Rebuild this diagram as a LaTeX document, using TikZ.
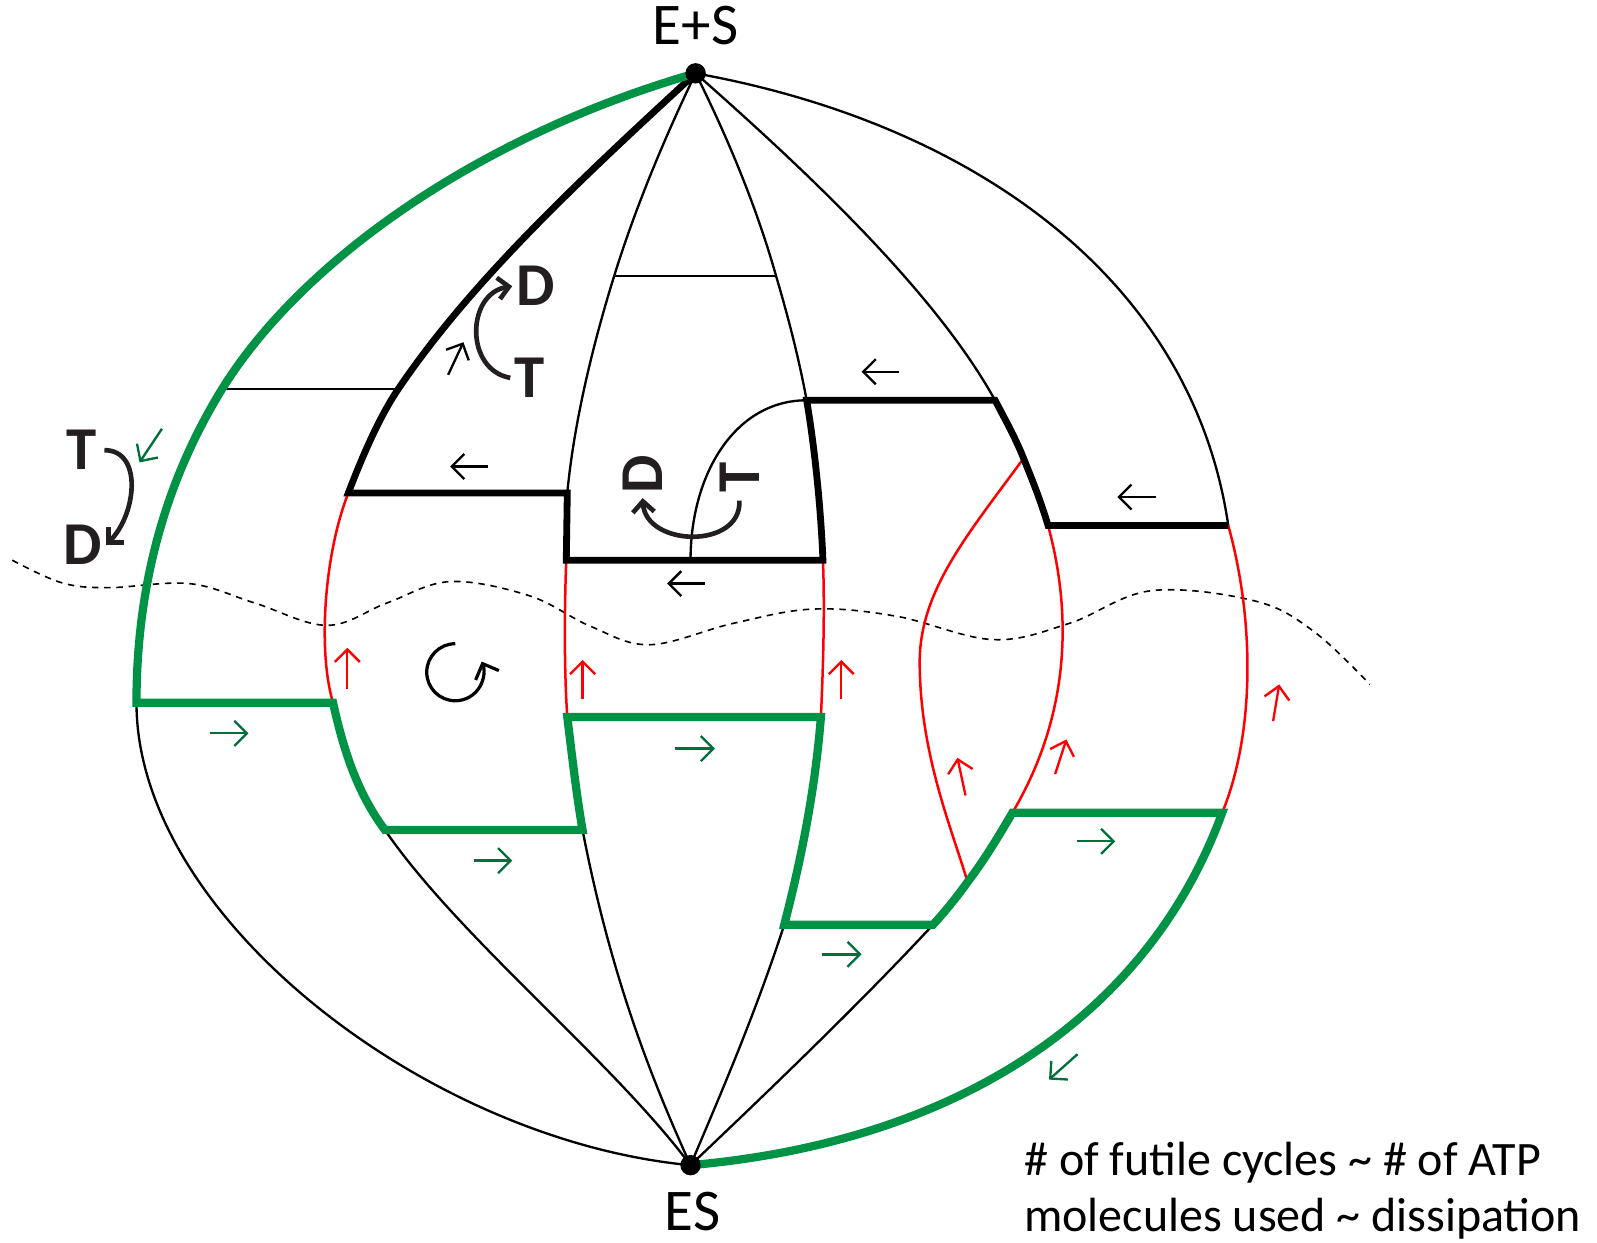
\documentclass[tikz,border=0pt]{standalone}
\usepackage{fontspec}
\setmainfont{Carlito}
\usetikzlibrary{arrows.meta}
\definecolor{pathgreen}{RGB}{0,146,69}
\definecolor{arrgreen}{RGB}{0,112,58}
\definecolor{loopgray}{RGB}{35,31,32}

\begin{document}
\begin{tikzpicture}[x=0.01cm, y=-0.01cm,
  thinline/.style={line width=0.65pt},
  boldline/.style={line width=1.9pt},
  greenline/.style={draw=pathgreen, line width=2.3pt},
  redline/.style={draw=red, line width=0.7pt},
  flow/.style={-{Straight Barb[length=3.5pt,width=7pt]}, line width=0.65pt},
  cyc/.style={draw=loopgray, line width=1.3pt, -{Straight Barb[length=3pt,width=6pt]}},
  letter/.style={inner sep=0pt, text=loopgray, font=\bfseries\fontsize{17}{18}\selectfont},
  statedot/.style={circle, fill=black, inner sep=0pt, minimum size=0.2cm},
  lbl/.style={font=\fontsize{16.5}{19}\selectfont}]
  \useasboundingbox (0,0) rectangle (1568,1220);

  %% states
  \coordinate (top) at (683,72);
  \coordinate (bot) at (678,1144);

  %% junctions on the six paths (a = outer left ... f = outer right)
  \coordinate (aH) at (218,382);
  \coordinate (aG) at (134,690);
  \coordinate (bH) at (391,382);
  \coordinate (bK) at (342,484);
  \coordinate (bG) at (327,690);
  \coordinate (bN) at (378,815);
  \coordinate (cH) at (603,271);
  \coordinate (cK) at (557,484);
  \coordinate (cL) at (556,550);
  \coordinate (cM) at (557,704);
  \coordinate (cN) at (572,815);
  \coordinate (dH) at (762,271);
  \coordinate (dK) at (792,393);
  \coordinate (dL) at (808,550);
  \coordinate (dM) at (806,704);
  \coordinate (dN) at (770,908);
  \coordinate (eK) at (977,393);
  \coordinate (eR) at (1005,450);
  \coordinate (eL) at (1029,516);
  \coordinate (eM) at (994,798);
  \coordinate (eX) at (950,866);
  \coordinate (eN) at (916,908);
  \coordinate (fL) at (1206,516);
  \coordinate (fM) at (1200,798);
  \coordinate (qB) at (678,550);

  %% dashed separatrix
  \draw[line width=0.45pt, dash pattern=on 1.8pt off 1.6pt] plot[smooth, tension=0.6] coordinates {
    (12,550) (60,572) (106,577) (186,573) (250,592) (321,614) (380,592) (442,571)
    (520,585) (580,615) (638,633) (720,612) (798,598) (880,605) (975,628)
    (1050,612) (1130,580) (1232,590) (1290,620) (1345,672)};

  %% thin black parts
  \draw[thinline] (aG) .. controls (134,900) and (420,1120) .. (bot);
  \draw[thinline] (bN) .. controls (450,920) and (600,1040) .. (bot);
  \draw[thinline] (top) .. controls (655,130) and (625,200) .. (cH)
                        .. controls (580,345) and (563,420) .. (cK);
  \draw[thinline] (cN) .. controls (600,960) and (640,1060) .. (bot);
  \draw[thinline] (top) .. controls (712,130) and (742,200) .. (dH)
                        .. controls (775,315) and (785,355) .. (dK);
  \draw[thinline] (dN) .. controls (740,1000) and (705,1080) .. (bot);
  \draw[thinline] (top) .. controls (800,175) and (920,290) .. (eK);
  \draw[thinline] (eN) .. controls (840,990) and (740,1085) .. (bot);
  \draw[thinline] (top) .. controls (950,120) and (1170,270) .. (fL);
  \draw[thinline] (aH) -- (bH);
  \draw[thinline] (cH) -- (dH);
  \draw[thinline] (qB) .. controls (678,465) and (722,393) .. (dK);

  %% red parts
  \draw[redline] (bK) .. controls (318,545) and (312,640) .. (bG);
  \draw[redline] (cL) .. controls (554,600) and (554,660) .. (cM);
  \draw[redline] (dL) .. controls (810,600) and (808,660) .. (dM);
  \draw[redline] (eL) .. controls (1052,600) and (1052,700) .. (eM);
  \draw[redline] (fL) .. controls (1232,610) and (1232,720) .. (fM);
  \draw[redline] (eR) .. controls (950,525) and (903,580) .. (903,650)
                      .. controls (903,740) and (935,815) .. (eX);

  %% thick black parts
  \draw[boldline] (top) .. controls (560,185) and (460,280) .. (bH)
                        .. controls (372,410) and (355,450) .. (bK) -- (cK) -- (cL) -- (dL)
                        .. controls (806,500) and (800,440) .. (dK) -- (eK)
                        .. controls (987,412) and (997,430) .. (eR)
                        .. controls (1013,470) and (1022,492) .. (eL) -- (fL);

  %% green parts
  \draw[greenline] (top) .. controls (480,130) and (300,250) .. (aH)
                         .. controls (170,460) and (134,560) .. (aG) -- (bG)
                         .. controls (338,740) and (352,780) .. (bN) -- (cN)
                         .. controls (566,780) and (562,745) .. (cM) -- (dM)
                         .. controls (800,780) and (785,850) .. (dN) -- (eN)
                         .. controls (928,895) and (940,880) .. (eX)
                         .. controls (966,845) and (980,822) .. (eM) -- (fM)
                         .. controls (1130,990) and (950,1120) .. (bot);

  %% states
  \node[statedot] (esTop) at (top) {};
  \node[statedot] (esBot) at (bot) {};
  \node[lbl, anchor=base] (labTop) at (683,44) {E+S};
  \node[lbl, anchor=base] (labBot) at (680,1208) {ES};

  %% flux arrows
  \draw[flow] (479,458) -- (442,458);
  \draw[flow] (692,573) -- (655,573);
  \draw[flow] (883,365) -- (846,365);
  \draw[flow] (1135,488) -- (1097,488);
  \draw[flow] (440,368) -- (455,336);
  \draw[flow, arrgreen] (206,720) -- (244,720);
  \draw[flow, arrgreen] (465,845) -- (503,845);
  \draw[flow, arrgreen] (663,735) -- (702,735);
  \draw[flow, arrgreen] (807,937) -- (846,937);
  \draw[flow, arrgreen] (1057,826) -- (1095,826);
  \draw[flow, arrgreen] (159,421) -- (137,454);
  \draw[flow, arrgreen] (1058,1035) -- (1030,1060);
  \draw[flow, red] (341,676) -- (341,636);
  \draw[flow, red] (572,686) -- (572,648);
  \draw[flow, red] (826,686) -- (826,648);
  \draw[flow, red] (948,781) -- (940,744);
  \draw[flow, red] (1036,760) -- (1047,726);
  \draw[flow, red] (1250,708) -- (1256,672);

  %% futile cycle
  \coordinate (circ) at (447,660);
  \draw[line width=0.9pt, -{Straight Barb[length=3.5pt,width=7pt]}]
    (circ) ++(0,-28) arc[start angle=90, end angle=382, radius=0.28cm];

  %% ATP -> ADP loops
  \node[letter] (tL) at (80,442) {T};
  \node[letter] (dL2) at (81,535) {D};
  \draw[cyc] ([xshift=2pt]tL.east) .. controls +(38,0) and +(30,-30) .. ([xshift=1pt]dL2.east);
  \node[letter] (tU) at (520,371) {T};
  \node[letter] (dU) at (526,281) {D};
  \draw[cyc] ([xshift=-1pt]tU.west) .. controls +(-45,-8) and +(-45,7) .. ([xshift=-1pt]dU.west);
  \node[letter, rotate=90] (tC) at (726,469) {T};
  \node[letter, rotate=90] (dC) at (631,466) {D};
  \draw[cyc] ([yshift=-2pt]tC.west) .. controls +(2,48) and +(3,48) .. ([yshift=-1pt]dC.west);

  %% note
  \node[anchor=north west, inner sep=0pt, align=left, font=\fontsize{13.4}{15.6}\selectfont] (note)
    at (1005,1121) {\# of futile cycles \textasciitilde{} \# of ATP\\molecules used \textasciitilde{} dissipation};
\end{tikzpicture}
\end{document}
